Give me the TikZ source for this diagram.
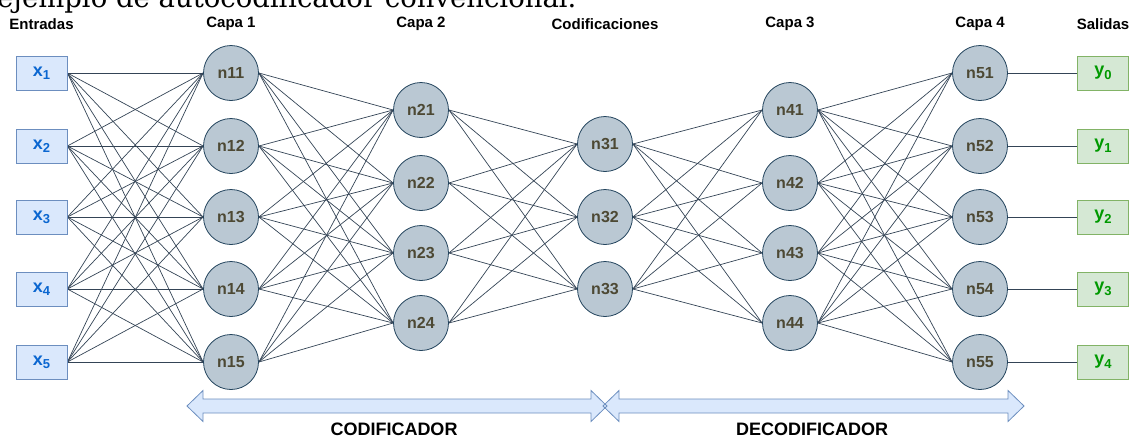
\documentclass[tikz,border=0pt]{standalone}
\usepackage{fontspec}
\setmainfont{Liberation Sans}
\newfontfamily\captionserif{DejaVu Serif}
\usetikzlibrary{backgrounds}

\definecolor{edgec}{RGB}{52,68,86}
\definecolor{nodefill}{HTML}{BAC8D3}
\definecolor{nodeline}{HTML}{23445D}
\definecolor{nodetext}{RGB}{77,73,52}
\definecolor{infill}{HTML}{DAE8FC}
\definecolor{inline}{HTML}{6C8EBF}
\definecolor{intext}{HTML}{0A66D0}
\definecolor{outfill}{HTML}{D5E8D4}
\definecolor{outline}{HTML}{82B366}
\definecolor{outtext}{HTML}{009900}

% lowered index for the x_i / y_i labels
\newcommand\lsub[1]{\raisebox{-0.35ex}{\fontsize{13}{13}\selectfont #1}}

\begin{document}
\begin{tikzpicture}[x=1pt,y=-1pt,
  neuron/.style={circle,draw=nodeline,fill=nodefill,line width=0.8pt,
    minimum size=55pt,inner sep=0pt,
    font=\fontsize{16}{16}\selectfont\bfseries,text=nodetext},
  inbox/.style={rectangle,draw=inline,fill=infill,line width=0.8pt,
    minimum width=51pt,minimum height=34pt,inner sep=0pt,
    font=\fontsize{18}{18}\selectfont\bfseries,text=intext},
  outbox/.style={rectangle,draw=outline,fill=outfill,line width=0.8pt,
    minimum width=51pt,minimum height=34pt,inner sep=0pt,
    font=\fontsize{18}{18}\selectfont\bfseries,text=outtext},
  header/.style={inner sep=0pt,font=\fontsize{15}{15}\selectfont\bfseries},
  section/.style={inner sep=0pt,font=\fontsize{18}{18}\selectfont\bfseries},
  link/.style={draw=edgec,line width=0.7pt},
  bandfill/.style={fill=infill},
  bandline/.style={draw=inline,line width=0.8pt,line join=miter},
]
\useasboundingbox (0,0) rectangle (1134,437);

% caption line running off the top edge
\node[anchor=base west,inner sep=0pt,font=\captionserif\fontsize{27.5}{28}\selectfont]
  (caption) at (-3,7) {ejemplo de autocodificador convencional.};

% column headings
\node[header] (hin)  at (41.5,24)  {Entradas};
\node[header] (hc1)  at (231,24)   {Capa 1};
\node[header] (hc2)  at (421,24)   {Capa 2};
\node[header] (hcod) at (605,24)   {Codificaciones};
\node[header] (hc3)  at (790,24)   {Capa 3};
\node[header] (hc4)  at (980,24)   {Capa 4};
\node[header] (hout) at (1103,24)  {Salidas};

% inputs and outputs
\foreach \i/\yy in {1/73,2/146,3/217,4/289,5/362}
  \node[inbox] (x\i) at (41.5,\yy) {x\lsub{\i}};
\foreach \i/\yy in {0/73,1/146,2/217,3/289,4/362}
  \node[outbox] (y\i) at (1103,\yy) {y\lsub{\i}};

% neurons
\foreach \i/\yy in {1/73,2/146,3/217,4/289,5/362}
  \node[neuron] (n1\i) at (231,\yy) {n1\i};
\foreach \i/\yy in {1/110,2/183,3/253,4/323}
  \node[neuron] (n2\i) at (421,\yy) {n2\i};
\foreach \i/\yy in {1/144,2/217,3/289}
  \node[neuron] (n3\i) at (605,\yy) {n3\i};
\foreach \i/\yy in {1/110,2/183,3/253,4/323}
  \node[neuron] (n4\i) at (790,\yy) {n4\i};
\foreach \i/\yy in {1/73,2/146,3/217,4/289,5/362}
  \node[neuron] (n5\i) at (980,\yy) {n5\i};

% fully connected links between consecutive layers
\begin{scope}[on background layer]
  \foreach \a in {1,...,5} \foreach \b in {1,...,5}
    \draw[link] (x\a.east) -- (n1\b.west);
  \foreach \a in {1,...,5} \foreach \b in {1,...,4}
    \draw[link] (n1\a.east) -- (n2\b.west);
  \foreach \a in {1,...,4} \foreach \b in {1,...,3}
    \draw[link] (n2\a.east) -- (n3\b.west);
  \foreach \a in {1,...,3} \foreach \b in {1,...,4}
    \draw[link] (n3\a.east) -- (n4\b.west);
  \foreach \a in {1,...,4} \foreach \b in {1,...,5}
    \draw[link] (n4\a.east) -- (n5\b.west);
  \foreach \a/\b in {1/0,2/1,3/2,4/3,5/4}
    \draw[link] (n5\a.east) -- (y\b.west);
\end{scope}

% encoder / decoder extent bands
\def\encband{(187,406) -- (203,390.5) -- (203,399) -- (591,399) -- (591,390.5) -- (607,406)
  -- (591,421.5) -- (591,413) -- (203,413) -- (203,421.5) -- cycle}
\def\decband{(603,406) -- (619,390.5) -- (619,399) -- (1008,399) -- (1008,390.5) -- (1024,406)
  -- (1008,421.5) -- (1008,413) -- (619,413) -- (619,421.5) -- cycle}
\fill[bandfill] \encband;
\fill[bandfill] \decband;
\draw[bandline] \encband;
\draw[bandline] \decband;

\node[section] (enc) at (394,429) {CODIFICADOR};
\node[section] (dec) at (812,429) {DECODIFICADOR};
\end{tikzpicture}
\end{document}
